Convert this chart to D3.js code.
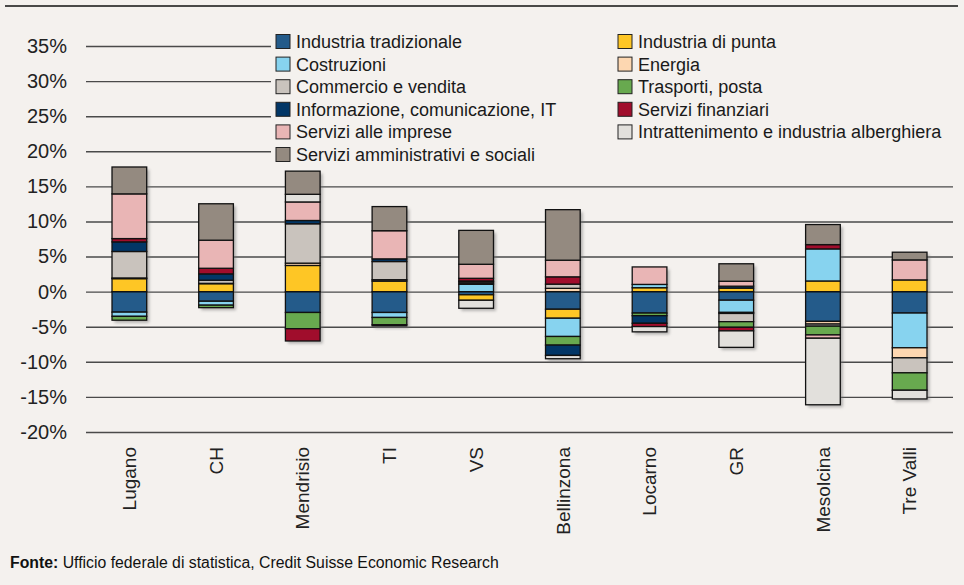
<!DOCTYPE html>
<html><head><meta charset="utf-8">
<script src="https://cdn.jsdelivr.net/npm/d3@7"></script>
<style>
html,body{margin:0;padding:0;background:#f4f1ee;}
svg{display:block;font-family:"Liberation Sans",Arial,Helvetica,sans-serif;}
</style></head>
<body><svg id="c" width="964" height="585"></svg>
<script>
const categories = ["Lugano","CH","Mendrisio","TI","VS","Bellinzona","Locarno","GR","Mesolcina","Tre Valli"];
const seriesNames = ["Industria tradizionale","Industria di punta","Costruzioni","Energia","Commercio e vendita","Trasporti, posta","Informazione, comunicazione, IT","Servizi finanziari","Servizi alle imprese","Intrattenimento e industria alberghiera","Servizi amministrativi e sociali"];
const seriesColors = ["#245b8a","#fec625","#87d3ef","#fdd7b1","#c9c3bd","#68a94f","#023666","#a00d2c","#e9b5b5","#e2e0dc","#948a80"];
const industriaTradizionale = [-2.92,-1.37,-2.97,-2.97,-0.45,-2.51,-3.05,-1.22,-4.24,-3.05];
const industriaDiPunta      = [1.85,1.13,3.73,1.5,-0.78,-1.28,0.56,0.5,1.52,1.67];
const costruzioni           = [-0.6,-0.56,0,-0.71,1.04,-2.6,0.47,-1.74,4.57,-4.95];
const energia               = [0.1,0.05,0.33,0.2,0.18,0.47,0,-0.15,-0.38,-1.43];
const commercio             = [3.77,0.45,5.61,2.59,0.2,0.6,0,-1.17,-0.3,-2.14];
const trasporti             = [-0.55,-0.35,-2.31,-1.04,0,-1.23,-0.38,-0.8,-1.25,-2.48];
const informazione          = [1.37,0.9,0.47,0.38,0.1,-1.47,-1.08,0.28,0,0];
const finanziari            = [0.47,0.8,-1.75,-0.15,0.38,1.04,-0.47,-0.51,0.61,0];
const imprese               = [6.37,4.0,2.64,4.01,2.0,2.37,2.49,0.7,-0.47,2.85];
const intrattenimento       = [0,0,1.09,0,-1.14,-0.47,-0.75,-2.35,-9.48,-1.24];
const amministrativi        = [3.83,5.19,3.3,3.44,4.83,7.2,0,2.49,2.86,1.1];
const yTicks = [-20,-15,-10,-5,0,5,10,15,20,25,30,35];
const sourceLabel = "Fonte:";
const sourceText = " Ufficio federale di statistica, Credit Suisse Economic Research";

const seriesValues = [industriaTradizionale,industriaDiPunta,costruzioni,energia,commercio,trasporti,informazione,finanziari,imprese,intrattenimento,amministrativi];
const rows = categories.map((c,i)=>{const r={cat:c}; seriesNames.forEach((s,j)=>r[s]=seriesValues[j][i]); return r;});

const svg = d3.select("#c");
svg.append("rect").attr("width",964).attr("height",585).attr("fill","#f4f1ee");
const defs = svg.append("defs");
const f = defs.append("filter").attr("id","sh").attr("x","-20%").attr("y","-20%").attr("width","150%").attr("height","150%");
f.append("feGaussianBlur").attr("stdDeviation",1.5);

// top rule
svg.append("line").attr("x1",5).attr("x2",958).attr("y1",6).attr("y2",6).attr("stroke","#111").attr("stroke-width",1.5);

const x = d3.scaleBand().domain(categories).range([86,953]).paddingInner(0.6).paddingOuter(0.3);
const y = d3.scaleLinear().domain([-20,35]).range([432,46]);

// gridlines
const yAxis = d3.axisLeft(y).tickValues(yTicks).tickSize(-(953-86)).tickFormat(d=>d+"%").tickPadding(19);
const gy = svg.append("g").attr("transform","translate(86,0)").call(yAxis);
gy.select(".domain").remove();
gy.selectAll(".tick line").attr("stroke","#4a4a4a").attr("stroke-width",1.4);
gy.selectAll(".tick text").attr("font-size",20).attr("fill","#222").attr("font-family","'Liberation Sans',Arial,sans-serif");

// legend background covering gridlines
svg.append("rect").attr("x",271).attr("y",30).attr("width",690).attr("height",135).attr("fill","#f4f1ee");

const stack = d3.stack().keys(seriesNames).offset(d3.stackOffsetDiverging);
const stacked = stack(rows);

// shadows
const ext = rows.map((r,i)=>{let mn=0,mx=0; stacked.forEach(s=>{mn=Math.min(mn,s[i][0],s[i][1]); mx=Math.max(mx,s[i][0],s[i][1]);}); return {cat:r.cat,mn,mx};});
svg.append("g").selectAll("rect").data(ext).join("rect")
  .attr("x",d=>x(d.cat)+2.5).attr("y",d=>y(d.mx)+2.5).attr("width",x.bandwidth()).attr("height",d=>y(d.mn)-y(d.mx))
  .attr("fill","#777").attr("opacity",0.55).attr("filter","url(#sh)");

const gBars = svg.append("g");
stacked.forEach((s,j)=>{
  gBars.append("g").selectAll("rect").data(s.filter(d=>Math.abs(d[1]-d[0])>1e-9)).join("rect")
    .attr("x",d=>x(d.data.cat)).attr("y",d=>y(Math.max(d[0],d[1])))
    .attr("width",x.bandwidth()).attr("height",d=>Math.abs(y(d[0])-y(d[1])))
    .attr("fill",seriesColors[j]).attr("stroke","#111").attr("stroke-width",1.3);
});

// x labels
const xAxis = d3.axisBottom(x).tickSize(0).tickPadding(0);
const gx = svg.append("g").attr("transform","translate(0,447)").call(xAxis);
gx.select(".domain").remove();
gx.selectAll(".tick text").attr("transform","rotate(-90)").attr("text-anchor","end")
  .attr("x",0).attr("y",0).attr("dy","0.35em").attr("font-size",19).attr("fill","#222")
  .attr("font-family","'Liberation Sans',Arial,sans-serif");

// legend
const leg = svg.append("g");
seriesNames.forEach((s,j)=>{
  const col = j%2, row = Math.floor(j/2);
  const lx = col===0 ? 276 : 618, ly = 41.5 + row*22.6;
  leg.append("rect").attr("x",lx).attr("y",ly-7).attr("width",14).attr("height",14)
    .attr("fill",seriesColors[j]).attr("stroke","#222").attr("stroke-width",1);
  leg.append("text").attr("x",lx+20).attr("y",ly).attr("dy","0.36em").attr("font-size",18).attr("fill","#1a1a1a").text(s);
});

// source
const t = svg.append("text").attr("x",10).attr("y",568).attr("font-size",15.8).attr("fill","#111");
t.append("tspan").attr("font-weight","bold").text(sourceLabel);
t.append("tspan").text(sourceText);
</script></body></html>
